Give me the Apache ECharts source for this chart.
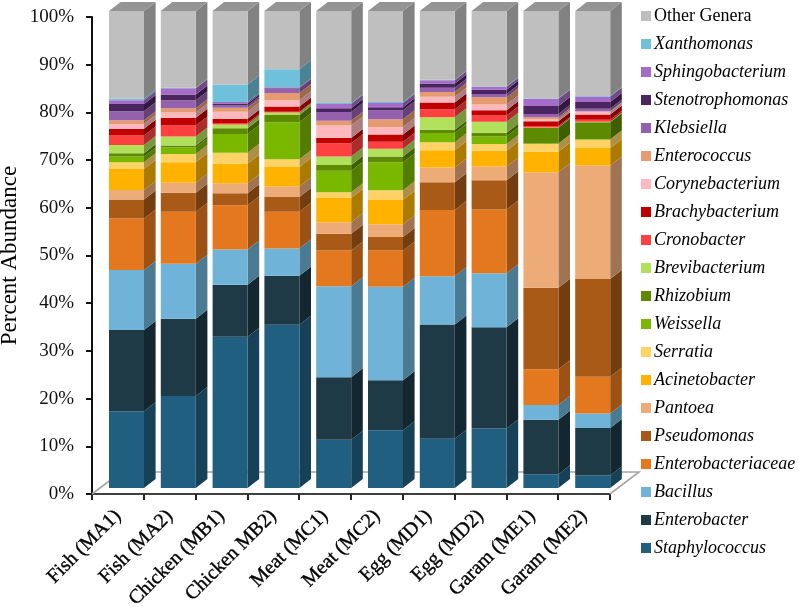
<!DOCTYPE html>
<html><head><meta charset="utf-8">
<style>html,body{margin:0;padding:0;background:#fff}#c{width:799px;height:607px}</style>
<script src="https://cdn.jsdelivr.net/npm/echarts@6/dist/echarts.min.js"></script>
</head><body><div id="c"></div>
<script>
const categories = ['Fish (MA1)','Fish (MA2)','Chicken (MB1)','Chicken MB2)','Meat (MC1)','Meat (MC2)','Egg (MD1)','Egg (MD2)','Garam (ME1)','Garam (ME2)'];
const staphylococcus = [16.1,19.3,31.7,34.2,10.1,12.1,10.3,12.5,2.9,2.6];
const enterobacter = [17.0,16.2,10.9,10.3,13.1,10.5,24.0,21.2,11.4,10.0];
const bacillus = [12.6,11.5,7.4,5.7,19.1,19.6,10.1,11.3,3.1,3.0];
const enterobacteriaceae = [10.8,10.9,9.3,7.7,7.5,7.6,13.9,13.4,7.5,7.7];
const pseudomonas = [4.0,4.0,2.5,3.1,3.5,2.8,5.8,6.1,17.1,20.5];
const pantoea = [2.0,2.1,2.1,2.2,2.4,2.7,3.1,2.9,24.2,23.8];
const acinetobacter = [4.4,4.3,4.1,4.1,5.1,5.1,3.6,3.3,4.3,3.7];
const serratia = [1.4,1.7,2.3,1.6,1.2,2.0,1.7,1.4,1.6,1.7];
const weissella = [1.2,1.4,3.9,7.8,4.5,5.9,1.9,1.6,0.1,0.1];
const rhizobium = [0.7,0.4,1.2,1.5,1.2,1.2,0.7,0.8,3.3,3.6];
const brevibacterium = [1.7,1.9,0.8,0.5,1.8,1.6,2.6,2.3,0.1,0.1];
const cronobacter = [2.0,2.3,0.3,0.2,2.8,1.5,1.7,1.3,0.3,0.4];
const brachybacterium = [1.4,1.6,0.9,1.1,1.1,1.5,1.4,1.1,1.0,1.1];
const corynebacterium = [1.0,1.1,1.5,1.3,2.6,1.6,1.2,1.2,0.4,0.6];
const enterococcus = [0.8,0.9,0.8,1.5,1.0,1.6,1.0,1.5,0.4,0.1];
const klebsiella = [1.9,1.7,0.5,1.0,1.8,1.9,0.9,0.7,0.7,0.5];
const stenotrophomonas = [1.5,1.2,0.4,0.1,0.8,0.6,0.9,0.9,1.7,1.4];
const sphingobacterium = [0.8,1.3,0.3,0.1,0.9,0.9,0.7,0.6,1.5,1.2];
const xanthomonas = [0.3,0.1,3.7,3.8,0.2,0.2,0.1,0.1,0.1,0.1];
const otherGenera = [18.4,16.1,15.4,12.2,19.3,19.1,14.4,15.8,18.3,17.8];
const yTicks = [0,10,20,30,40,50,60,70,80,90,100];

const seriesDefs = [
 ['Staphylococcus',staphylococcus,'#215f80'],
 ['Enterobacter',enterobacter,'#1e3a47'],
 ['Bacillus',bacillus,'#6fb4d8'],
 ['Enterobacteriaceae',enterobacteriaceae,'#e4781e'],
 ['Pseudomonas',pseudomonas,'#aa5a17'],
 ['Pantoea',pantoea,'#ecab77'],
 ['Acinetobacter',acinetobacter,'#ffb300'],
 ['Serratia',serratia,'#ffd265'],
 ['Weissella',weissella,'#7ab800'],
 ['Rhizobium',rhizobium,'#5d8a00'],
 ['Brevibacterium',brevibacterium,'#b1e05b'],
 ['Cronobacter',cronobacter,'#ff4040'],
 ['Brachybacterium',brachybacterium,'#c00000'],
 ['Corynebacterium',corynebacterium,'#ffb9be'],
 ['Enterococcus',enterococcus,'#e59a6f'],
 ['Klebsiella',klebsiella,'#9560ad'],
 ['Stenotrophomonas',stenotrophomonas,'#4b2560'],
 ['Sphingobacterium',sphingobacterium,'#a56dc7'],
 ['Xanthomonas',xanthomonas,'#6fc0db'],
 ['Other Genera',otherGenera,'#bfbfbf']
];

const FRONT_DX = 8.6, FRONT_DY = -6, HALF_W = 17.5, DEPTH_X = 11.6, DEPTH_Y = -9, SIDE_SHADE = 0.68;
const FONT = '"Liberation Serif","Times New Roman",serif';

function shade(hex, f) {
  const n = parseInt(hex.slice(1), 16);
  return 'rgb(' + [n >> 16, (n >> 8) & 255, n & 255].map(v => Math.round(v * f)).join(',') + ')';
}

const bases = seriesDefs.map((_, s) => categories.map((_, c) => {
  let t = 0; for (let k = 0; k < s; k++) t += seriesDefs[k][1][c]; return t;
}));

function barSeries(def, s) {
  const [name, values, color] = def;
  const last = s === seriesDefs.length - 1;
  const side = shade(color, SIDE_SHADE);
  return {
    type: 'custom', name, coordinateSystem: 'cartesian2d',
    itemStyle: { color },
    data: values.map((v, c) => [c, v, bases[s][c]]),
    encode: { x: 0, y: 1 },
    renderItem(params, api) {
      const c = api.value(0), b = api.value(2), t = b + api.value(1);
      const p0 = api.coord([c, b]), p1 = api.coord([c, last ? 100 : t]);
      const l = p0[0] + FRONT_DX - HALF_W, r = p0[0] + FRONT_DX + HALF_W;
      const yb = p0[1] + FRONT_DY, yt = p1[1] + FRONT_DY;
      const kids = [
        { type:'polygon', shape:{points:[[r,yb],[r+DEPTH_X,yb+DEPTH_Y],[r+DEPTH_X,yt+DEPTH_Y],[r,yt]]}, style:{fill:side} },
        { type:'rect', shape:{x:l,y:yt,width:r-l,height:yb-yt}, style:{fill:color} }
      ];
      if (last) kids.push({ type:'polygon', shape:{points:[[l,yt],[r,yt],[r+DEPTH_X,yt+DEPTH_Y],[l+DEPTH_X,yt+DEPTH_Y]]}, style:{fill:'#949494'} });
      return { type:'group', children:kids };
    }
  };
}

const floorSeries = {
  type:'custom', name:'floor', silent:true, coordinateSystem:'cartesian2d',
  data:[[0,0]], encode:{x:0,y:1}, z:1,
  renderItem(params, api) {
    const g = params.coordSys, bx = g.x, by = g.y + g.height, dx = 29, dy = -22;
    const st = { stroke:'#a6a6a6', lineWidth:1.6, fill:null };
    return { type:'polyline', shape:{points:[[bx,by],[bx+dx,by+dy],[bx+g.width+dx,by+dy],[bx+g.width,by]]}, style:st };
  }
};

const chart = echarts.init(document.getElementById('c'), null, {renderer:'canvas'});
chart.setOption({
  animation:false,
  backgroundColor:'#fff',
  grid:{left:92,right:189,top:17,bottom:113,containLabel:false,outerBoundsMode:'none'},
  legend:{
    orient:'vertical', left:641, top:7, padding:0, icon:'rect', itemWidth:10, itemHeight:10, itemGap:10,
    selectedMode:false, align:'left',
    data: seriesDefs.slice().reverse().map(d => ({
      name:d[0],
      textStyle:{ fontStyle: d[0]==='Other Genera' ? 'normal' : 'italic', fontFamily:FONT, fontSize:18, color:'#000', lineHeight:18, padding:[0,0,0,-2]}
    }))
  },
  xAxis:{
    type:'category', data:categories, boundaryGap:true,
    axisLine:{lineStyle:{color:'#404040',width:2}},
    axisTick:{show:true,length:6,lineStyle:{color:'#222',width:2}},
    axisLabel:{rotate:45,interval:0,margin:19,fontFamily:FONT,fontSize:20,color:'#000',textBorderColor:'#000',textBorderWidth:0.35}
  },
  yAxis:{
    type:'value', min:yTicks[0], max:yTicks[yTicks.length-1], interval:10,
    name:'Percent Abundance', nameLocation:'middle', nameGap:71, nameRotate:90, nameMoveOverlap:false,
    nameTextStyle:{fontFamily:FONT,fontSize:23,color:'#000'},
    splitLine:{show:false},
    axisLine:{show:true,lineStyle:{color:'#111',width:2}},
    axisTick:{show:true,length:6,lineStyle:{color:'#111',width:2}},
    axisLabel:{formatter:'{value}%',margin:18,fontFamily:FONT,fontSize:19,color:'#111'}
  },
  series:[floorSeries].concat(seriesDefs.map((d,s)=>barSeries(d,s)))
});
</script></body></html>
